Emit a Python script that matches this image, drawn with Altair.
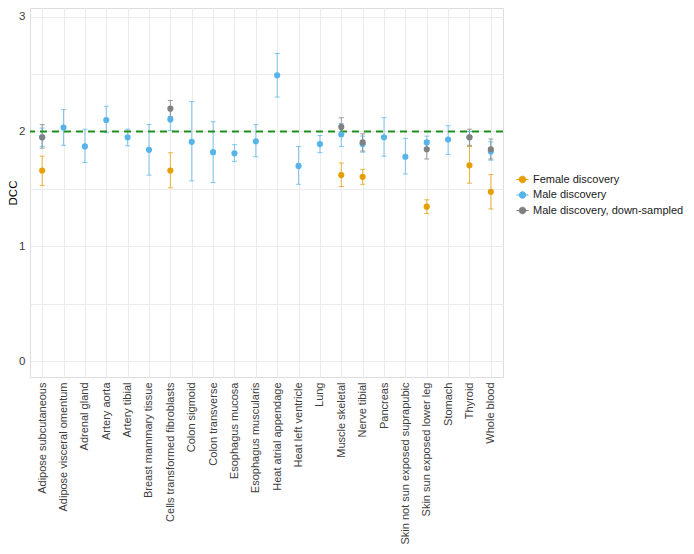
import altair as alt
import pandas as pd

tissues = ["Adipose subcutaneous", "Adipose visceral omentum", "Adrenal gland", "Artery aorta",
           "Artery tibial", "Breast mammary tissue", "Cells transformed fibroblasts", "Colon sigmoid",
           "Colon transverse", "Esophagus mucosa", "Esophagus muscularis", "Heat atrial appendage",
           "Heat left ventricle", "Lung", "Muscle skeletal", "Nerve tibial", "Pancreas",
           "Skin not sun exposed suprapubic", "Skin sun exposed lower leg", "Stomach", "Thyroid",
           "Whole blood"]

# Female discovery
f_tissue = ["Adipose subcutaneous", "Cells transformed fibroblasts", "Muscle skeletal", "Nerve tibial",
            "Skin sun exposed lower leg", "Thyroid", "Whole blood"]
f_mean = [1.66, 1.66, 1.62, 1.605, 1.345, 1.705, 1.475]
f_lo = [1.53, 1.51, 1.52, 1.54, 1.285, 1.55, 1.325]
f_hi = [1.785, 1.815, 1.725, 1.67, 1.405, 1.87, 1.625]

# Male discovery
m_tissue = tissues
m_mean = [1.95, 2.035, 1.87, 2.10, 1.95, 1.84, 2.105, 1.91, 1.82, 1.81, 1.915, 2.49, 1.70, 1.89,
          1.975, 1.89, 1.95, 1.78, 1.905, 1.93, 1.95, 1.825]
m_lo = [1.87, 1.88, 1.73, 1.99, 1.875, 1.62, 2.01, 1.57, 1.555, 1.74, 1.78, 2.30, 1.54, 1.815,
        1.87, 1.82, 1.785, 1.63, 1.86, 1.80, 1.87, 1.75]
m_hi = [2.03, 2.19, 2.02, 2.22, 2.02, 2.06, 2.18, 2.26, 2.085, 1.885, 2.06, 2.68, 1.87, 1.965,
        2.07, 1.96, 2.12, 1.94, 1.96, 2.05, 2.00, 1.91]

# Male discovery, down-sampled
d_tissue = ["Adipose subcutaneous", "Cells transformed fibroblasts", "Muscle skeletal", "Nerve tibial",
            "Skin sun exposed lower leg", "Thyroid", "Whole blood"]
d_mean = [1.95, 2.20, 2.04, 1.905, 1.845, 1.95, 1.845]
d_lo = [1.855, 2.13, 1.96, 1.83, 1.76, 1.88, 1.76]
d_hi = [2.06, 2.27, 2.12, 1.98, 1.92, 2.02, 1.935]

series = ["Female discovery", "Male discovery", "Male discovery, down-sampled"]
colors = ["#E69F00", "#56B4E9", "#808080"]

rows = []
for name, t, m, lo, hi in [(series[0], f_tissue, f_mean, f_lo, f_hi),
                           (series[1], m_tissue, m_mean, m_lo, m_hi),
                           (series[2], d_tissue, d_mean, d_lo, d_hi)]:
    for i in range(len(t)):
        rows.append({"tissue": t[i], "series": name, "dcc": m[i], "lo": lo[i], "hi": hi[i],
                     "order": series.index(name)})
df = pd.DataFrame(rows)

font = "Liberation Sans"
cscale = alt.Scale(domain=series, range=colors)

legend = alt.Legend(title=None, orient="none", legendX=486, legendY=165,
                    symbolType="M -1 0 H 1 M 0.55 0 A 0.55 0.55 0 1 1 -0.55 0 A 0.55 0.55 0 1 1 0.55 0 Z",
                    symbolSize=144, symbolStrokeWidth=1, labelFont=font, labelFontSize=11,
                    labelColor="#1a1a1a", rowPadding=3.5, labelOffset=4, symbolOpacity=1,
                    labelLimit=200)
color = alt.Color("series:N", scale=cscale, legend=legend)

x = alt.X("tissue:N", sort=tissues, scale=alt.Scale(type="point", padding=0.57),
          axis=alt.Axis(title=None, labelAngle=-90, labelAlign="right", labelBaseline="middle",
                        labelFontSize=11, labelColor="#3d3d3d", labelFont=font, labelPadding=5,
                        ticks=False, domain=False, grid=True, gridColor="#ebebeb", labelOverlap=False))
yscale = alt.Scale(domain=[-0.139, 3.076], nice=False, zero=False)
y = alt.Y("dcc:Q", scale=yscale,
          axis=alt.Axis(title="DCC", values=[0, 0.5, 1, 1.5, 2, 2.5, 3],
                        labelExpr="datum.value % 1 == 0 ? format(datum.value, 'd') : ''",
                        labelFontSize=11.5, labelColor="#3d3d3d", labelFont=font, labelPadding=5,
                        titleFont=font, titleFontSize=11.5, titleFontWeight="normal", titleColor="#000000",
                        titlePadding=0, ticks=False, domain=False, grid=True, gridColor="#ebebeb"))

base = alt.Chart(df)

rules = base.mark_rule(strokeWidth=1, opacity=0.75).encode(
    x=x, y=alt.Y("lo:Q", scale=yscale), y2="hi:Q", color=color, order="order:Q")
caps_lo = base.mark_tick(orient="horizontal", size=5, thickness=1, opacity=0.75).encode(
    x=x, y=alt.Y("lo:Q", scale=yscale), color=color)
caps_hi = base.mark_tick(orient="horizontal", size=5, thickness=1, opacity=0.75).encode(
    x=x, y=alt.Y("hi:Q", scale=yscale), color=color)

points = base.mark_circle(size=38, opacity=1).encode(
    x=x, y=y, color=color, order="order:Q")

hline = alt.Chart(pd.DataFrame({"v": [2]})).mark_rule(
    color="#1f8f1f", strokeWidth=2, strokeDash=[7, 5]).encode(y=alt.Y("v:Q", scale=yscale))

chart = alt.layer(rules, caps_lo, caps_hi, hline, points).properties(
    width=473, height=369,
    autosize=alt.AutoSizeParams(type="none"),
    padding={"left": 22, "top": 0, "right": 183, "bottom": 169}
).configure_view(stroke=None).configure(background="white")

chart.save("out.html", embed_options={"renderer": "svg", "actions": False})
